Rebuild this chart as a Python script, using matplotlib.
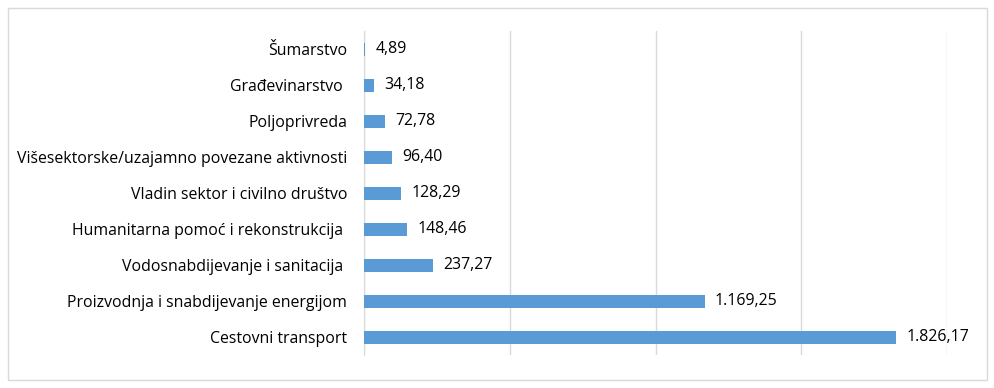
import matplotlib.pyplot as plt
from matplotlib.patches import Rectangle

# podaci
sektori = ['Šumarstvo', 'Građevinarstvo ', 'Poljoprivreda', 'Višesektorske/uzajamno povezane aktivnosti',
           'Vladin sektor i civilno društvo', 'Humanitarna pomoć i rekonstrukcija ',
           'Vodosnabdijevanje i sanitacija ', 'Proizvodnja i snabdijevanje energijom', 'Cestovni transport']
iznosi = [4.89, 34.18, 72.78, 96.40, 128.29, 148.46, 237.27, 1169.25, 1826.17]
oznake = ['4,89', '34,18', '72,78', '96,40', '128,29', '148,46', '237,27', '1.169,25', '1.826,17']
x_ticks = [0, 500, 1000, 1500, 2000]

plt.rcParams['font.family'] = ['Open Sans', 'DejaVu Sans']

fig = plt.figure(figsize=(9.95, 3.88), dpi=100)
ax = fig.add_axes([0.3658, 0.085, 0.586, 0.835])

y = list(range(len(sektori)))
ax.barh(y, iznosi, height=0.36, color='#5b9bd5', zorder=3)
for yi, v, t in zip(y, iznosi, oznake):
    ax.text(v + 34, yi, t, va='center', ha='left', fontsize=11.4, color='black')

ax.set_ylim(len(sektori) - 0.5, -0.5)
ax.set_xlim(0, 2000)
ax.set_xticks(x_ticks)
ax.set_xticklabels([])
ax.tick_params(axis='x', length=0)
ax.set_yticks(y)
ax.set_yticklabels(sektori, fontsize=11.4)
ax.tick_params(axis='y', length=0, pad=12)
ax.grid(axis='x', color='#d9d9d9', linewidth=1, zorder=0)
for s in ['top', 'right', 'bottom']:
    ax.spines[s].set_visible(False)
ax.spines['left'].set_color('#d9d9d9')

# okvir oko grafikona
fig.patches.append(Rectangle((8 / 995, 8 / 388), 979 / 995, 372 / 388, transform=fig.transFigure,
                             fill=False, edgecolor='#d9d9d9', linewidth=1))

fig.savefig('out.png', dpi=100)
